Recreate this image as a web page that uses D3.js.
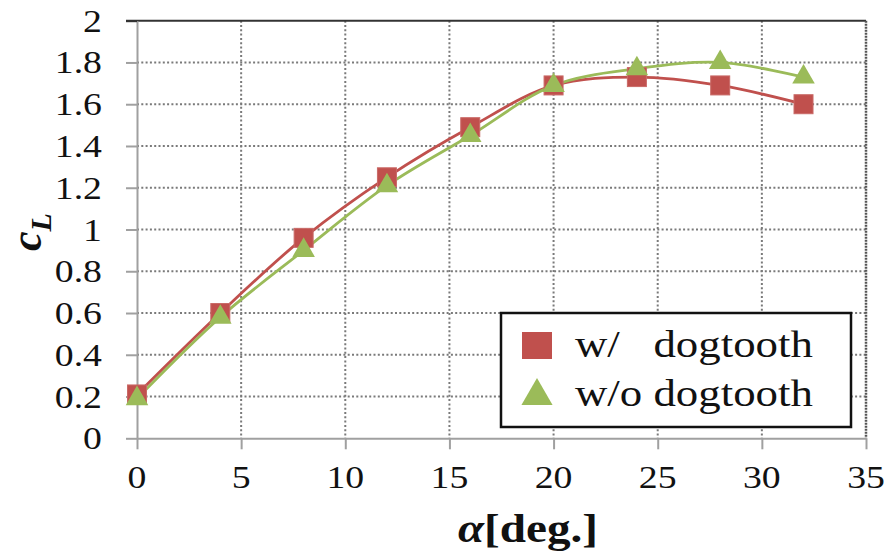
<!DOCTYPE html>
<html lang="en">
<head>
    <meta charset="UTF-8">
    <title>cL vs alpha</title>
    <script src="https://cdn.jsdelivr.net/npm/d3@7"></script>
    <style>
        body { margin: 0; background: #fff; }
        text { font-family: "Liberation Serif", "Times New Roman", serif; fill: #111; }
    </style>
</head>
<body>
    <svg width="892" height="551"></svg>
    <script>
        // data
        const alpha = [0, 4, 8, 12, 16, 20, 24, 28, 32];
        const withDog = [0.21, 0.60, 0.96, 1.25, 1.49, 1.69, 1.73, 1.69, 1.60];
        const withoutDog = [0.19, 0.58, 0.90, 1.21, 1.45, 1.69, 1.77, 1.80, 1.73];
        const xTicks = [0, 5, 10, 15, 20, 25, 30, 35];
        const yTicks = [0, 0.2, 0.4, 0.6, 0.8, 1, 1.2, 1.4, 1.6, 1.8, 2];
        const seriesNames = ["w/   dogtooth", "w/o dogtooth"];

        const red = "#c0504d";
        const green = "#9bbb59";
        const stretch = 1.18; // text in the picture is a bit wide

        const svg = d3.select("svg");

        const x = d3.scaleLinear().domain([0, 35]).range([137, 866]);
        const y = d3.scaleLinear().domain([0, 2]).range([438.3, 20.7]);

        // grid
        svg.append("g").selectAll("line")
            .data(xTicks.filter(d => d > 0 && d < 35))
            .join("line")
            .attr("x1", d => x(d)).attr("x2", d => x(d))
            .attr("y1", y(2)).attr("y2", y(0))
            .attr("stroke", "#7a7a7a").attr("stroke-width", 2)
            .attr("stroke-dasharray", "2,2.3");
        svg.append("g").selectAll("line")
            .data(yTicks.filter(d => d > 0 && d < 2))
            .join("line")
            .attr("x1", x(0)).attr("x2", x(35))
            .attr("y1", d => y(d)).attr("y2", d => y(d))
            .attr("stroke", "#7a7a7a").attr("stroke-width", 2)
            .attr("stroke-dasharray", "2,2.3");

        // frame top / right
        svg.append("line")
            .attr("x1", x(0) - 11).attr("x2", x(35))
            .attr("y1", y(2)).attr("y2", y(2))
            .attr("stroke", "#333").attr("stroke-width", 2);
        svg.append("line")
            .attr("x1", x(35)).attr("x2", x(35))
            .attr("y1", y(2)).attr("y2", y(0))
            .attr("stroke", "#555").attr("stroke-width", 2.5)
            .attr("stroke-dasharray", "2,1");

        // axes (lines and ticks only, labels below)
        const xAxis = svg.append("g")
            .attr("transform", `translate(0,${y(0)})`)
            .call(d3.axisBottom(x).tickValues(xTicks).tickSize(11).tickSizeOuter(0).tickFormat(""));
        const yAxis = svg.append("g")
            .attr("transform", `translate(${x(0)},0)`)
            .call(d3.axisLeft(y).tickValues(yTicks).tickSize(11).tickSizeOuter(0).tickFormat(""));
        [xAxis, yAxis].forEach(g => {
            g.selectAll("path, line").attr("stroke", "#a0a0a0").attr("stroke-width", 2);
        });
        yAxis.selectAll(".tick").filter(d => d === 2).select("line").attr("stroke", "#333");

        // tick labels
        svg.append("g").selectAll("text")
            .data(xTicks)
            .join("text")
            .attr("transform", d => `translate(${x(d)},488) scale(${stretch},1)`)
            .attr("text-anchor", "middle")
            .attr("font-size", 32)
            .text(d => d);
        svg.append("g").selectAll("text")
            .data(yTicks)
            .join("text")
            .attr("transform", d => `translate(102,${y(d) + 11}) scale(${stretch},1)`)
            .attr("text-anchor", "end")
            .attr("font-size", 32)
            .text(d => d);

        // axis titles
        const xt = svg.append("text")
            .attr("transform", `translate(528,542) scale(${stretch},1)`)
            .attr("text-anchor", "middle")
            .attr("font-size", 40)
            .attr("font-weight", "bold");
        xt.append("tspan").attr("font-style", "italic").text("α");
        xt.append("tspan").text("[deg.]");

        const yt = svg.append("text")
            .attr("transform", "translate(41,232) rotate(-90)")
            .attr("text-anchor", "middle")
            .attr("font-weight", "bold")
            .attr("font-style", "italic");
        yt.append("tspan").attr("font-size", 44).text("c");
        yt.append("tspan").attr("font-size", 30).attr("dy", 10).text("L");

        // lines
        const line = d3.line()
            .x((d, i) => x(alpha[i]))
            .y(d => y(d))
            .curve(d3.curveCatmullRom.alpha(0.5));

        svg.append("path").datum(withDog)
            .attr("d", line)
            .attr("fill", "none").attr("stroke", red).attr("stroke-width", 2.8);
        svg.append("path").datum(withoutDog)
            .attr("d", line)
            .attr("fill", "none").attr("stroke", green).attr("stroke-width", 2.8);

        // markers
        const sq = 19;
        svg.append("g").selectAll("rect")
            .data(withDog)
            .join("rect")
            .attr("x", (d, i) => x(alpha[i]) - sq / 2)
            .attr("y", d => y(d) - sq / 2)
            .attr("width", sq).attr("height", sq)
            .attr("fill", red).attr("stroke", "#c96a67").attr("stroke-width", 1);

        const tri = d3.symbol().type(d3.symbolTriangle).size(220);
        svg.append("g").selectAll("path")
            .data(withoutDog)
            .join("path")
            .attr("d", tri)
            .attr("transform", (d, i) => `translate(${x(alpha[i])},${y(d)})`)
            .attr("fill", green);

        // legend
        const lg = svg.append("g");
        lg.append("rect")
            .attr("x", 501).attr("y", 313)
            .attr("width", 350).attr("height", 114)
            .attr("fill", "#fff").attr("stroke", "#111").attr("stroke-width", 2.5);
        lg.append("rect")
            .attr("x", 522).attr("y", 332).attr("width", 30).attr("height", 27)
            .attr("fill", red);
        lg.append("path")
            .attr("d", d3.symbol().type(d3.symbolTriangle).size(420))
            .attr("transform", "translate(537,396)")
            .attr("fill", green);
        lg.selectAll("text.lab")
            .data(seriesNames)
            .join("text")
            .attr("class", "lab")
            .attr("transform", (d, i) => `translate(575,${357 + i * 49}) scale(${stretch},1)`)
            .attr("font-size", 38)
            .style("white-space", "pre")
            .text(d => d);
    </script>
</body>
</html>
